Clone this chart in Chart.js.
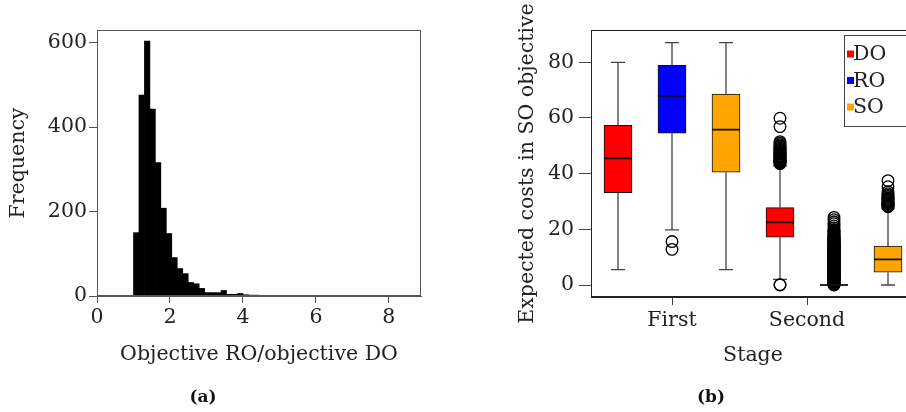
<!DOCTYPE html>
<html>
<head>
<meta charset="utf-8">
<script src="https://cdn.jsdelivr.net/npm/chart.js@4.4.0/dist/chart.umd.min.js"></script>
<style>
  html, body { margin: 0; padding: 0; background: #fff; overflow: hidden; }
  body { width: 906px; height: 412px; position: relative; }
  #wrapA { position: absolute; left: 0; top: 0; width: 450px; height: 412px; }
  #wrapB { position: absolute; left: 450px; top: 0; width: 480px; height: 412px; }
  .cap { position: absolute; top: 396px; transform: translate(-50%, -50%);
         font: bold 17px "DejaVu Serif", serif; color: #111; }
</style>
</head>
<body>
<div id="wrapA"><canvas id="hist"></canvas></div>
<div id="wrapB"><canvas id="box"></canvas></div>
<div class="cap" style="left:203px">(a)</div>
<div class="cap" style="left:711px">(b)</div>

<script>
"use strict";

// (a) histogram of objective RO / objective DO
const binStart = 1.0;
const binWidth = 0.15;
const freq = [150, 476, 604, 443, 316, 208, 148, 91, 65, 53,
              32, 29, 18, 8, 8, 8, 13, 4, 4, 6,
              3, 2, 2, 1, 1, 1, 1, 1, 1, 0,
              0, 0, 0, 0, 0, 0, 1, 0, 0, 0,
              0, 0, 0, 0, 0, 0, 0, 0, 0, 1];
const histTicksX = [0, 2, 4, 6, 8];
const histTicksY = [0, 200, 400, 600];

// (b) boxplots, stage x method
const stageLabels = ["First", "Second"];
const stageTickPos = [2, 4.5];
const costTicks = [0, 20, 40, 60, 80];
const methods = ["DO", "RO", "SO"];
const methodColors = ["#ff0000", "#0000ff", "#ffa500"];
const boxPos = [[1, 4], [2, 5], [3, 6]];
const whiskLo = [[5.5, 2.0], [19.8, 0], [5.5, 0]];
const q1 = [[33.2, 17.2], [54.5, 0], [40.5, 4.6]];
const median = [[45.5, 22.5], [67.9, 0], [55.8, 9.2]];
const q3 = [[57.4, 27.8], [78.9, 0], [68.6, 14.0]];
const whiskHi = [[80.0, 42.8], [87.1, 0], [87.1, 27.6]];
const outDO = [[], [0, 0.1, 43.6, 43.8, 44.0, 44.2, 44.5, 44.7, 44.9, 45.1, 45.4, 45.7, 46.0,
                    46.2, 46.4, 46.7, 47.0, 47.2, 47.4, 47.7, 48.1, 48.4, 48.8, 49.2, 49.6,
                    50.0, 50.4, 50.9, 51.5, 56.9, 59.9]];
const outRO = [[12.8, 15.6], [0, 0.1, 0.2, 0.3, 0.4, 0.5, 0.6, 0.7, 0.8, 0.9, 1.0, 1.1, 1.2,
                    1.3, 1.4, 1.5, 1.7, 1.8, 1.9, 2.0, 2.1, 2.2, 2.3, 2.4, 2.5, 2.6, 2.7,
                    2.8, 2.9, 3.0, 3.1, 3.2, 3.3, 3.5, 3.6, 3.7, 3.8, 3.9, 4.0, 4.1, 4.2,
                    4.3, 4.4, 4.5, 4.6, 4.7, 4.8, 4.9, 5.0, 5.2, 5.3, 5.4, 5.5, 5.6, 5.7,
                    5.8, 5.9, 6.0, 6.1, 6.2, 6.3, 6.4, 6.5, 6.7, 6.8, 6.9, 7.0, 7.1, 7.2,
                    7.3, 7.4, 7.5, 7.6, 7.7, 7.8, 7.9, 8.0, 8.2, 8.3, 8.4, 8.5, 8.6, 8.7,
                    8.8, 8.9, 9.0, 9.1, 9.2, 9.3, 9.5, 9.6, 9.7, 9.8, 9.9, 10.0, 10.1,
                    10.2, 10.3, 10.4, 10.6, 10.7, 10.8, 10.9, 11.0, 11.1, 11.2, 11.3,
                    11.5, 11.6, 11.7, 11.8, 11.9, 12.0, 12.1, 12.2, 12.4, 12.5, 12.6,
                    12.7, 12.8, 12.9, 13.1, 13.2, 13.3, 13.4, 13.5, 13.6, 13.8, 13.9,
                    14.0, 14.1, 14.3, 14.4, 14.5, 14.6, 14.8, 14.9, 15.0, 15.2, 15.3,
                    15.5, 15.6, 15.8, 15.9, 16.1, 16.2, 16.4, 16.6, 16.8, 17.0, 17.2,
                    17.5, 17.7, 18.0, 18.3, 18.6, 19.0, 19.4, 19.8, 20.5, 21.2, 22.0,
                    22.7, 23.5, 24.3]];
const outSO = [[], [28.1, 28.3, 28.5, 28.7, 28.9, 29.1, 29.3, 29.6, 29.9, 30.2, 30.5, 30.8,
                    31.1, 31.4, 31.8, 32.3, 32.8, 33.5, 35.3, 37.5]];
const outliers = [outDO, outRO, outSO];

const serif = '"DejaVu Serif", serif';
const fs = 20.5;
const ink = "#222";

// box around the plot region
const frame = {
  id: "frame",
  afterDraw(chart, args, opts) {
    const a = chart.chartArea;
    const ctx = chart.ctx;
    ctx.save();
    ctx.strokeStyle = opts.color || "#000";
    ctx.lineWidth = 1;
    ctx.strokeRect(Math.round(a.left) + 0.5, Math.round(a.top) + 0.5,
                   Math.round(a.right - a.left) - 1, Math.round(a.bottom - a.top) - 1);
    ctx.restore();
  },
};

new Chart(document.getElementById("hist"), {
  type: "bar",
  data: {
    datasets: [{
      data: freq.map((f, i) => ({ x: binStart + binWidth * (i + 0.5), y: f })),
      backgroundColor: "#000",
      borderWidth: 0,
      barPercentage: 1,
      categoryPercentage: 1,
      grouped: false,
    }],
  },
  options: {
    responsive: true,
    maintainAspectRatio: false,
    animation: false,
    layout: { padding: { left: 0, top: 30, right: 29, bottom: 0 } },
    plugins: { legend: { display: false }, tooltip: { enabled: false }, frame: { color: "#555" } },
    scales: {
      x: {
        type: "linear", min: 0, max: 8.88, offset: false,
        afterBuildTicks: (s) => { s.ticks = histTicksX.map((v) => ({ value: v })); },
        grid: { drawOnChartArea: false, offset: false, tickLength: 7, color: "#555" },
        border: { color: "#555" },
        ticks: { padding: 2, color: ink, font: { family: serif, size: fs } },
        title: { display: true, text: "Objective RO/objective DO", color: ink,
                 font: { family: serif, size: fs }, padding: { top: 0, bottom: 45 } },
        afterFit: (s) => { s.height = 116; },
      },
      y: {
        min: 0, max: 630,
        afterBuildTicks: (s) => { s.ticks = histTicksY.map((v) => ({ value: v })); },
        grid: { drawOnChartArea: false, tickLength: 8, color: "#555" },
        border: { color: "#555" },
        ticks: { padding: 2, color: ink, font: { family: serif, size: fs } },
        title: { display: true, text: "Frequency", color: ink,
                 font: { family: serif, size: fs }, padding: { top: 6, bottom: 0 } },
        afterFit: (s) => { s.width = 97; },
      },
    },
  },
  plugins: [frame],
});

// whiskers, staples and medians, drawn through the chart's scales
const boxParts = {
  id: "boxParts",
  beforeDatasetsDraw(chart) {
    const { ctx, scales: { x, y } } = chart;
    ctx.save();
    ctx.strokeStyle = "#444";
    ctx.lineWidth = 1.3;
    for (let g = 0; g < methods.length; g++) {
      for (let k = 0; k < boxPos[g].length; k++) {
        const px = x.getPixelForValue(boxPos[g][k]);
        ctx.beginPath();
        ctx.moveTo(px, y.getPixelForValue(q3[g][k]));
        ctx.lineTo(px, y.getPixelForValue(whiskHi[g][k]));
        ctx.moveTo(px, y.getPixelForValue(q1[g][k]));
        ctx.lineTo(px, y.getPixelForValue(whiskLo[g][k]));
        ctx.moveTo(px - 7, y.getPixelForValue(whiskHi[g][k]));
        ctx.lineTo(px + 7, y.getPixelForValue(whiskHi[g][k]));
        ctx.moveTo(px - 7, y.getPixelForValue(whiskLo[g][k]));
        ctx.lineTo(px + 7, y.getPixelForValue(whiskLo[g][k]));
        ctx.stroke();
      }
    }
    ctx.restore();
  },
  afterDatasetsDraw(chart) {
    const { ctx, scales: { x, y } } = chart;
    ctx.save();
    ctx.strokeStyle = "#111";
    ctx.lineWidth = 1.8;
    for (let g = 0; g < methods.length; g++) {
      for (let k = 0; k < boxPos[g].length; k++) {
        const px = x.getPixelForValue(boxPos[g][k]);
        const py = y.getPixelForValue(median[g][k]);
        ctx.beginPath();
        ctx.moveTo(px - 14, py);
        ctx.lineTo(px + 14, py);
        ctx.stroke();
      }
    }
    ctx.restore();
  },
  afterDraw(chart) {
    // legend, top right of the plot region
    const { ctx, chartArea: a } = chart;
    const left = a.right - 71, top = a.top + 5;
    ctx.save();
    ctx.fillStyle = "#fff";
    ctx.fillRect(left, top, 80, 91);
    ctx.strokeStyle = "#444";
    ctx.lineWidth = 1;
    ctx.strokeRect(left + 0.5, top + 0.5, 80, 91);
    ctx.font = fs + "px " + serif;
    ctx.textBaseline = "middle";
    methods.forEach((m, i) => {
      const cy = top + 19 + i * 26.5;
      ctx.fillStyle = methodColors[i];
      ctx.fillRect(left + 3, cy - 3.5, 7, 7);
      ctx.fillStyle = ink;
      ctx.fillText(m, left + 9, cy + 1);
    });
    ctx.restore();
  },
};

const boxSets = methods.map((m, g) => ({
  type: "bar",
  label: m,
  data: boxPos[g].map((p, k) => ({ x: p, y: [q1[g][k], q3[g][k]] })),
  backgroundColor: methodColors[g],
  borderColor: "#111",
  borderWidth: 1,
  borderSkipped: false,
  barThickness: 28,
  grouped: false,
}));

const outlierSets = methods.map((m, g) => ({
  type: "scatter",
  label: m + " outliers",
  data: outliers[g].flatMap((vals, k) => vals.map((v) => ({ x: boxPos[g][k], y: v }))),
  pointStyle: "circle",
  pointRadius: 5.8,
  pointBackgroundColor: "rgba(0,0,0,0)",
  pointBorderColor: "#000",
  pointBorderWidth: 1.3,
}));

new Chart(document.getElementById("box"), {
  type: "bar",
  data: { datasets: boxSets.concat(outlierSets) },
  options: {
    responsive: true,
    maintainAspectRatio: false,
    animation: false,
    layout: { padding: { left: 0, top: 30, right: 15, bottom: 0 } },
    plugins: { legend: { display: false }, tooltip: { enabled: false }, frame: { color: "#222" } },
    scales: {
      x: {
        type: "linear", min: 0.5, max: 6.5, offset: false,
        afterBuildTicks: (s) => { s.ticks = stageTickPos.map((v) => ({ value: v })); },
        grid: { drawOnChartArea: false, offset: false, tickLength: 8, color: "#444" },
        border: { color: "#222" },
        ticks: { padding: 3, color: ink, font: { family: serif, size: fs },
                 callback: (v, i) => stageLabels[i] },
        title: { display: true, text: "Stage", color: ink,
                 font: { family: serif, size: fs }, padding: { top: 0, bottom: 44 } },
        afterFit: (s) => { s.height = 115; },
      },
      y: {
        min: -4.31, max: 91.6,
        afterBuildTicks: (s) => { s.ticks = costTicks.map((v) => ({ value: v })); },
        grid: { drawOnChartArea: false, tickLength: 12, color: "#444" },
        border: { color: "#222" },
        ticks: { padding: 5, color: ink, font: { family: serif, size: fs } },
        title: { display: true, text: "Expected costs in SO objective", color: ink,
                 font: { family: serif, size: fs }, padding: { top: 65, bottom: 0 } },
        afterFit: (s) => { s.width = 141; },
      },
    },
  },
  plugins: [frame, boxParts],
});
</script>
</body>
</html>
